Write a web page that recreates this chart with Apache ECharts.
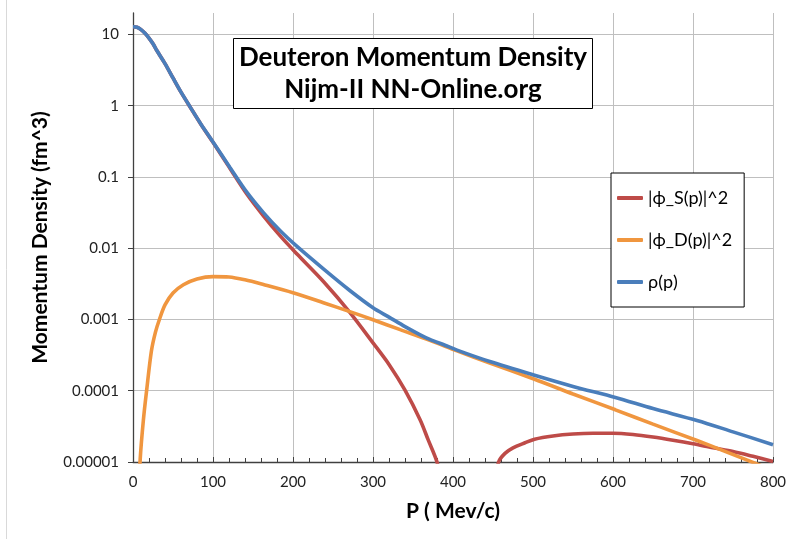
<!DOCTYPE html>
<html>
<head>
<meta charset="utf-8">
<script src="https://cdn.jsdelivr.net/npm/echarts@6/dist/echarts.min.js"></script>
<style>
html, body { margin: 0; padding: 0; background: #fff; }
#chart { width: 796px; height: 539px; }
</style>
</head>
<body>
<div id="chart"></div>
<script>
// momentum p (MeV/c) and densities (fm^3)
const pS = [0, 5, 10, 15, 20, 25, 30, 40, 50, 60, 71, 85, 100, 121, 142, 163, 184, 205, 238, 271, 300, 320, 340, 359, 369, 380, 388,
    420, 450, 457, 465, 475, 490, 502, 525, 550, 575, 600, 625, 650, 675, 700, 725, 750, 775, 800]
const waveS = [12.8, 12.6, 11.7, 10.4, 8.9, 7.4, 5.9, 3.9, 2.45, 1.55, 0.976, 0.546, 0.306, 0.133, 0.0581, 0.0285, 0.0149, 0.0083, 0.00341, 0.00126, 0.00047, 0.000234, 0.000102, 0.0000389, 0.0000204, 0.00001, 0.000004,
    null, 0.000004, 0.00001, 0.0000132, 0.0000158, 0.0000186, 0.0000209, 0.0000232, 0.0000247, 0.0000253, 0.0000253, 0.0000243, 0.0000224, 0.0000202, 0.000018, 0.0000158, 0.000014, 0.000012, 0.0000102]

const pD = [5, 9, 13, 17, 23, 28, 33, 40, 50, 63, 80, 100, 120, 140, 163, 200, 238, 271, 300, 334, 371, 405, 446, 502, 550, 603, 650, 705, 740, 767, 800]
const waveD = [0.0000013, 0.000011, 0.000039, 0.0001, 0.00036, 0.00066, 0.001, 0.0016, 0.00235, 0.00307, 0.0037, 0.004, 0.00395, 0.0036, 0.00309, 0.00237, 0.00172, 0.00129, 0.00099, 0.00072, 0.00051, 0.000363, 0.000245, 0.000145, 0.00009, 0.000054, 0.000034, 0.00002, 0.0000141, 0.0000107, 0.0000076]

const pRho = [0, 5, 10, 15, 20, 25, 30, 40, 50, 60, 71, 85, 100, 121, 142, 163, 184, 205, 238, 271, 300, 320, 340, 359, 371, 390, 405, 446, 502, 550, 603, 650, 705, 750, 800]
const rho = [12.8, 12.6, 11.7, 10.4, 8.9, 7.4, 5.9, 3.9, 2.45, 1.55, 0.98, 0.55, 0.31, 0.137, 0.0617, 0.0316, 0.0176, 0.0106, 0.00513, 0.00255, 0.00146, 0.00108, 0.000795, 0.00061, 0.000525, 0.000435, 0.000372, 0.000257, 0.000165, 0.000115, 0.0000805, 0.0000562, 0.0000383, 0.0000265, 0.0000175]

const seriesNames = ['|ϕ_S(p)|^2', '|ϕ_D(p)|^2', 'ρ(p)']
const seriesColors = ['#BE4B48', '#F0963F', '#4A7EBB']

const yTickValues = [0.00001, 0.0001, 0.001, 0.01, 0.1, 1, 10]
const yTickLabels = ['0.00001', '0.0001', '0.001', '0.01', '0.1', '1', '10']

const font = 'Lato'
const axisColor = '#404040'
const gridColor = '#BFBFBF'

const pairs = (xs, ys) => xs.map((x, i) => [x, ys[i]])
const lineSeries = (name, xs, ys, i) => ({
    name: name,
    type: 'line',
    data: pairs(xs, ys),
    symbol: 'none',
    smooth: 0.3,
    clip: true,
    connectNulls: false,
    lineStyle: { color: seriesColors[i], width: 3.6 },
    itemStyle: { color: seriesColors[i] },
    z: 3 + i
})

const chart = echarts.init(document.getElementById('chart'), null, { renderer: 'canvas' })
const option = {
    animation: false,
    backgroundColor: '#fff',
    textStyle: { fontFamily: font },
    title: {
        text: 'Deuteron Momentum Density\nNijm-II NN-Online.org',
        left: 407,
        top: 38,
        textAlign: 'center',
        borderColor: '#000',
        borderWidth: 1,
        backgroundColor: '#fff',
        padding: [4, 6, 3, 6],
        textStyle: { fontFamily: font, fontSize: 26, fontWeight: 700, color: '#000', lineHeight: 32 }
    },
    legend: {
        orient: 'vertical',
        left: 611,
        top: 173,
        data: seriesNames,
        icon: 'roundRect',
        itemWidth: 26,
        itemHeight: 4,
        itemGap: 24,
        padding: [16, 12, 16, 6],
        borderColor: '#000',
        borderWidth: 1,
        backgroundColor: '#fff',
        textStyle: { fontFamily: font, fontSize: 18, color: '#000' }
    },
    grid: { left: 133, right: 23, top: 13, bottom: 77 },
    xAxis: {
        type: 'value',
        min: 0,
        max: 800,
        interval: 100,
        name: 'P ( Mev/c)',
        nameLocation: 'middle',
        nameGap: 39,
        nameTextStyle: { fontFamily: font, fontSize: 21, fontWeight: 700, color: '#000' },
        axisLine: { show: true, lineStyle: { color: axisColor, width: 1.3 } },
        axisTick: { show: true, inside: true, length: 5, lineStyle: { color: axisColor, width: 1 } },
        minorTick: { show: true, splitNumber: 5, length: 4, lineStyle: { color: axisColor, width: 1 } },
        axisLabel: { margin: 13, fontFamily: font, fontSize: 15, color: '#222' },
        splitLine: { show: true, lineStyle: { color: gridColor, width: 1 } }
    },
    yAxis: {
        type: 'log',
        logBase: 10,
        min: 0.00001,
        max: 20,
        name: 'Momentum Density (fm^3)',
        nameLocation: 'middle',
        nameGap: 82,
        nameTextStyle: { fontFamily: font, fontSize: 21, fontWeight: 700, color: '#000' },
        axisLine: { show: true, lineStyle: { color: axisColor, width: 1.3 } },
        axisTick: { show: true, inside: false, length: 5, customValues: yTickValues, lineStyle: { color: axisColor, width: 1 } },
        axisLabel: {
            customValues: yTickValues,
            margin: 14,
            fontFamily: font,
            fontSize: 15,
            color: '#222',
            formatter: function (v) {
                const i = yTickValues.findIndex(t => Math.abs(Math.log10(t) - Math.log10(v)) < 1e-6)
                return i >= 0 ? yTickLabels[i] : ''
            }
        },
        splitLine: { show: true, lineStyle: { color: gridColor, width: 1 } }
    },
    graphic: [{
        type: 'line',
        shape: { x1: 6.5, y1: 0, x2: 6.5, y2: 539 },
        style: { stroke: '#D9D9D9', lineWidth: 1 },
        silent: true
    }],
    series: [
        lineSeries(seriesNames[0], pS, waveS, 0),
        lineSeries(seriesNames[1], pD, waveD, 1),
        lineSeries(seriesNames[2], pRho, rho, 2)
    ]
}
chart.setOption(option)
</script>
</body>
</html>
